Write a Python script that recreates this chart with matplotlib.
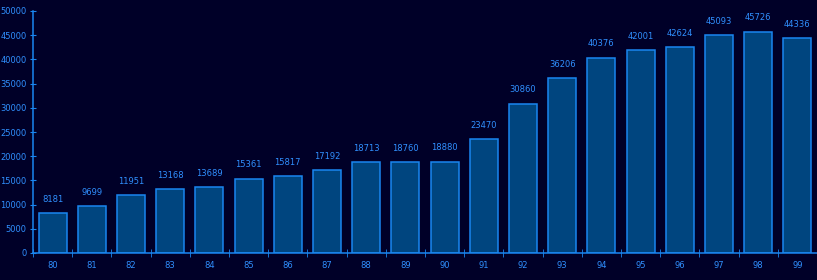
import matplotlib
matplotlib.use("Agg")
import matplotlib.pyplot as plt
import numpy as np

years = ["80", "81", "82", "83", "84", "85", "86", "87", "88", "89",
         "90", "91", "92", "93", "94", "95", "96", "97", "98", "99"]
values = [8181, 9699, 11951, 13168, 13689, 15361, 15817, 17192, 18713, 18760,
          18880, 23470, 30860, 36206, 40376, 42001, 42624, 45093, 45726, 44336]
yticks = [0, 5000, 10000, 15000, 20000, 25000, 30000, 35000, 40000, 45000, 50000]

bg = "#000028"
fill = "#00457f"
edge = "#1a86f0"
txt = "#3090ff"

fig = plt.figure(figsize=(8.17, 2.80), dpi=100, facecolor=bg)
ax = fig.add_axes([33 / 817, 27 / 280, 784 / 817, (253 - 11) / 280])
ax.set_facecolor(bg)

x = np.arange(len(years))
ax.bar(x, values, width=0.71, color=fill, edgecolor=edge, linewidth=1.1)
for xi, v in zip(x, values):
    ax.text(xi, v + 1900, str(v), ha="center", va="bottom", color=txt, fontsize=6)

ax.set_xlim(-0.5, len(years) - 0.5)
ax.set_ylim(0, 50000)
ax.set_yticks(yticks)
ax.set_yticklabels([str(t) for t in yticks])
ax.set_xticks(x)
ax.set_xticklabels(years)
ax.set_xticks(np.arange(len(years) + 1) - 0.5, minor=True)

ax.tick_params(axis="y", colors=edge, labelcolor=txt, labelsize=6, direction="inout", length=5, pad=2)
ax.tick_params(axis="x", which="major", length=0, labelcolor=txt, labelsize=6, pad=6)
ax.tick_params(axis="x", which="minor", colors=edge, direction="inout", length=6)

for s in ["top", "right"]:
    ax.spines[s].set_visible(False)
for s in ["left", "bottom"]:
    ax.spines[s].set_color(edge)
    ax.spines[s].set_linewidth(1.1)

fig.savefig("out.png", dpi=100, facecolor=bg)
